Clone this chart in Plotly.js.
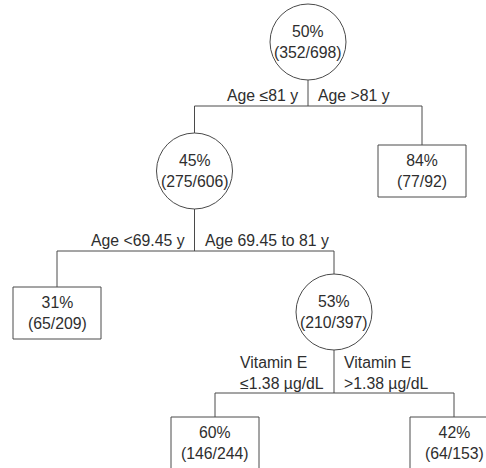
<!DOCTYPE html>
<html>
<head>
<meta charset="utf-8">
<script src="https://cdn.plot.ly/plotly-3.0.1.min.js"></script>
<style>html,body{margin:0;padding:0;background:#fff;}#chart{width:486px;height:468px;}</style>
</head>
<body>
<div id="chart"></div>
<script>
// ---- data ----
const nodeIds = ['root', 'age81', 'ageOver81', 'ageUnder69', 'age69to81', 'vitELow', 'vitEHigh'];
const nodeParent = [null, 'root', 'root', 'age81', 'age81', 'age69to81', 'age69to81'];
const nodePositive = [352, 275, 77, 65, 210, 146, 64];
const nodeTotal = [698, 606, 92, 209, 397, 244, 153];
const nodeTerminal = [false, false, true, true, false, true, true];
const edgeLabels = ['', 'Age ≤81 y', 'Age >81 y', 'Age <69.45 y', 'Age 69.45 to 81 y',
  'Vitamin E<br>≤1.38 µg/dL', 'Vitamin E<br>>1.38 µg/dL'];

// ---- layout (pixel-space positions) ----
const pos = {
  root: [308, 42], age81: [194.5, 171], ageOver81: [422, 171],
  ageUnder69: [57, 313], age69to81: [334, 312], vitELow: [215, 443], vitEHigh: [454, 443]
};
const R = 38, BW = 88, BH = 52;
const barY = {root: 106, age81: 251, age69to81: 393};
const labelY = {root: 95, age81: 240, age69to81: 373};
const lineColor = '#4a4a4a';
const font = {family: 'Liberation Sans, Arial, sans-serif', size: 15.8, color: '#2e2e2e'};

function nodeTop(i) { const p = pos[nodeIds[i]]; return nodeTerminal[i] ? p[1] - BH / 2 : p[1] - R; }
function nodeBottom(i) { const p = pos[nodeIds[i]]; return p[1] + R; }

const shapes = [];
const annotations = [];
const ex = [], ey = [];

nodeIds.forEach((id, i) => {
  const [cx, cy] = pos[id];
  if (nodeTerminal[i]) {
    shapes.push({type: 'rect', xref: 'x', yref: 'y', x0: cx - BW / 2, x1: cx + BW / 2,
      y0: cy - BH / 2, y1: cy + BH / 2, line: {color: lineColor, width: 1}, fillcolor: '#fff'});
  } else {
    shapes.push({type: 'circle', xref: 'x', yref: 'y', x0: cx - R, x1: cx + R,
      y0: cy - R, y1: cy + R, line: {color: lineColor, width: 1}, fillcolor: '#fff'});
  }
  const pct = Math.round(100 * nodePositive[i] / nodeTotal[i]);
  annotations.push({x: cx, y: cy, xref: 'x', yref: 'y', showarrow: false,
    text: pct + '%<br>(' + nodePositive[i] + '/' + nodeTotal[i] + ')', font: font,
    xanchor: 'center', yanchor: 'middle', align: 'center'});
});

// edges
nodeIds.forEach((id, i) => {
  if (!nodeTerminal[i]) {
    const kids = nodeIds.map((k, j) => j).filter(j => nodeParent[j] === id);
    const px = pos[id][0];
    const by = barY[id];
    ex.push(px, px, null); ey.push(nodeBottom(i), by, null);
    const xs = kids.map(j => pos[nodeIds[j]][0]);
    ex.push(Math.min(...xs), Math.max(...xs), null); ey.push(by, by, null);
    kids.forEach((j, k) => {
      ex.push(xs[k], xs[k], null); ey.push(by, nodeTop(j), null);
      const leftSide = xs[k] < px;
      annotations.push({x: leftSide ? px - 8 : px + 8, y: labelY[id], xref: 'x', yref: 'y',
        showarrow: false, text: edgeLabels[j], font: font, align: 'left',
        xanchor: leftSide ? 'right' : 'left', yanchor: 'middle'});
    });
  }
});

const trace = {x: ex, y: ey, mode: 'lines', type: 'scatter', line: {color: lineColor, width: 1},
  hoverinfo: 'skip', showlegend: false};

const layout = {
  width: 486, height: 468, margin: {l: 0, r: 0, t: 0, b: 0},
  paper_bgcolor: '#fff', plot_bgcolor: '#fff',
  xaxis: {range: [0, 486], visible: false, fixedrange: true},
  yaxis: {range: [468, 0], visible: false, fixedrange: true},
  shapes: shapes, annotations: annotations, showlegend: false
};
Plotly.newPlot('chart', [trace], layout, {displayModeBar: false, staticPlot: true});
</script>
</body>
</html>
